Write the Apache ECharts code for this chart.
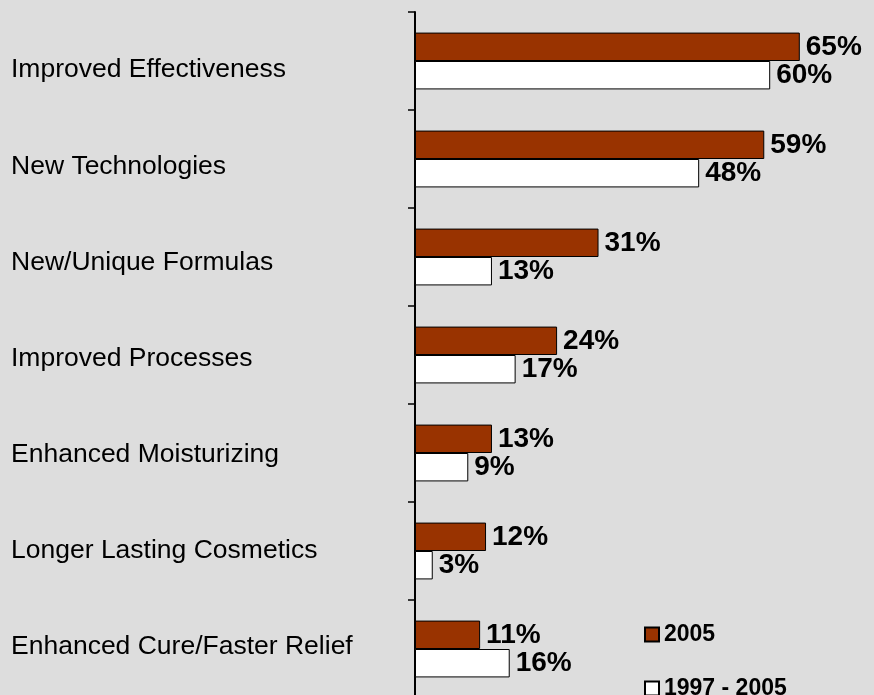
<!DOCTYPE html>
<html>
<head>
<meta charset="utf-8">
<script src="https://cdn.jsdelivr.net/npm/echarts@6/dist/echarts.min.js"></script>
<style>
  html, body { margin: 0; padding: 0; background: #dddddd; }
  #chart { width: 874px; height: 695px; }
</style>
</head>
<body>
<div id="chart"></div>
<script>
// Innovation drivers, share of mentions (%)
const categories = [
  'Improved Effectiveness',
  'New Technologies',
  'New/Unique Formulas',
  'Improved Processes',
  'Enhanced Moisturizing',
  'Longer Lasting Cosmetics',
  'Enhanced Cure/Faster Relief'
];
const values2005 = [65, 59, 31, 24, 13, 12, 11];
const values1997to2005 = [60, 48, 13, 17, 9, 3, 16];
const seriesNames = ['2005', '1997 - 2005'];

const FONT = '"Liberation Sans", Arial, sans-serif';

const chart = echarts.init(document.getElementById('chart'));

const valueLabel = {
  show: true,
  position: 'right',
  distance: 6,
  formatter: '{c}%',
  color: '#000',
  fontFamily: FONT,
  fontWeight: 'bold',
  fontSize: 28
};

const legendText = {
  color: '#000',
  fontFamily: FONT,
  fontWeight: 'bold',
  fontSize: 23
};

chart.setOption({
  backgroundColor: '#dddddd',
  animation: false,
  grid: [
    // the bar area runs slightly past the bottom edge of the page
    { left: 415, right: 15, top: 12, height: 686, outerBoundsMode: 'none' },
    { left: 415, right: 15, top: 22, height: 673, outerBoundsMode: 'none' }
  ],
  xAxis: [
    { gridIndex: 0, type: 'value', min: 0, max: 75, show: false },
    { gridIndex: 1, type: 'value', min: 0, max: 75, show: false }
  ],
  yAxis: [
    {
      gridIndex: 0,
      type: 'category',
      data: categories,
      inverse: true,
      axisLine: { show: true, lineStyle: { color: '#000', width: 2 } },
      axisTick: { show: true, length: 7, lineStyle: { color: '#000', width: 1.5 } },
      axisLabel: { show: false },
      splitLine: { show: false }
    },
    {
      // category names, left-aligned at the page margin
      gridIndex: 1,
      type: 'category',
      data: categories,
      inverse: true,
      axisLine: { show: false },
      axisTick: { show: false },
      axisLabel: {
        show: true,
        align: 'left',
        margin: 404,
        color: '#000',
        fontFamily: FONT,
        fontSize: 26.5
      },
      splitLine: { show: false }
    }
  ],
  legend: [
    {
      left: 644,
      top: 623,
      padding: 0,
      itemWidth: 14,
      itemHeight: 14,
      icon: 'rect',
      textStyle: legendText,
      data: [seriesNames[0]]
    },
    {
      left: 644,
      top: 677,
      padding: 0,
      itemWidth: 14,
      itemHeight: 14,
      icon: 'rect',
      textStyle: legendText,
      data: [seriesNames[1]]
    }
  ],
  series: [
    {
      name: seriesNames[0],
      type: 'bar',
      xAxisIndex: 0,
      yAxisIndex: 0,
      data: values2005,
      barGap: '0%',
      barCategoryGap: '42%',
      itemStyle: { color: '#993300', borderColor: '#000', borderWidth: 1 },
      label: valueLabel
    },
    {
      name: seriesNames[1],
      type: 'bar',
      xAxisIndex: 0,
      yAxisIndex: 0,
      data: values1997to2005,
      barGap: '0%',
      barCategoryGap: '42%',
      itemStyle: { color: '#ffffff', borderColor: '#000', borderWidth: 1 },
      label: valueLabel
    }
  ]
});
</script>
</body>
</html>
